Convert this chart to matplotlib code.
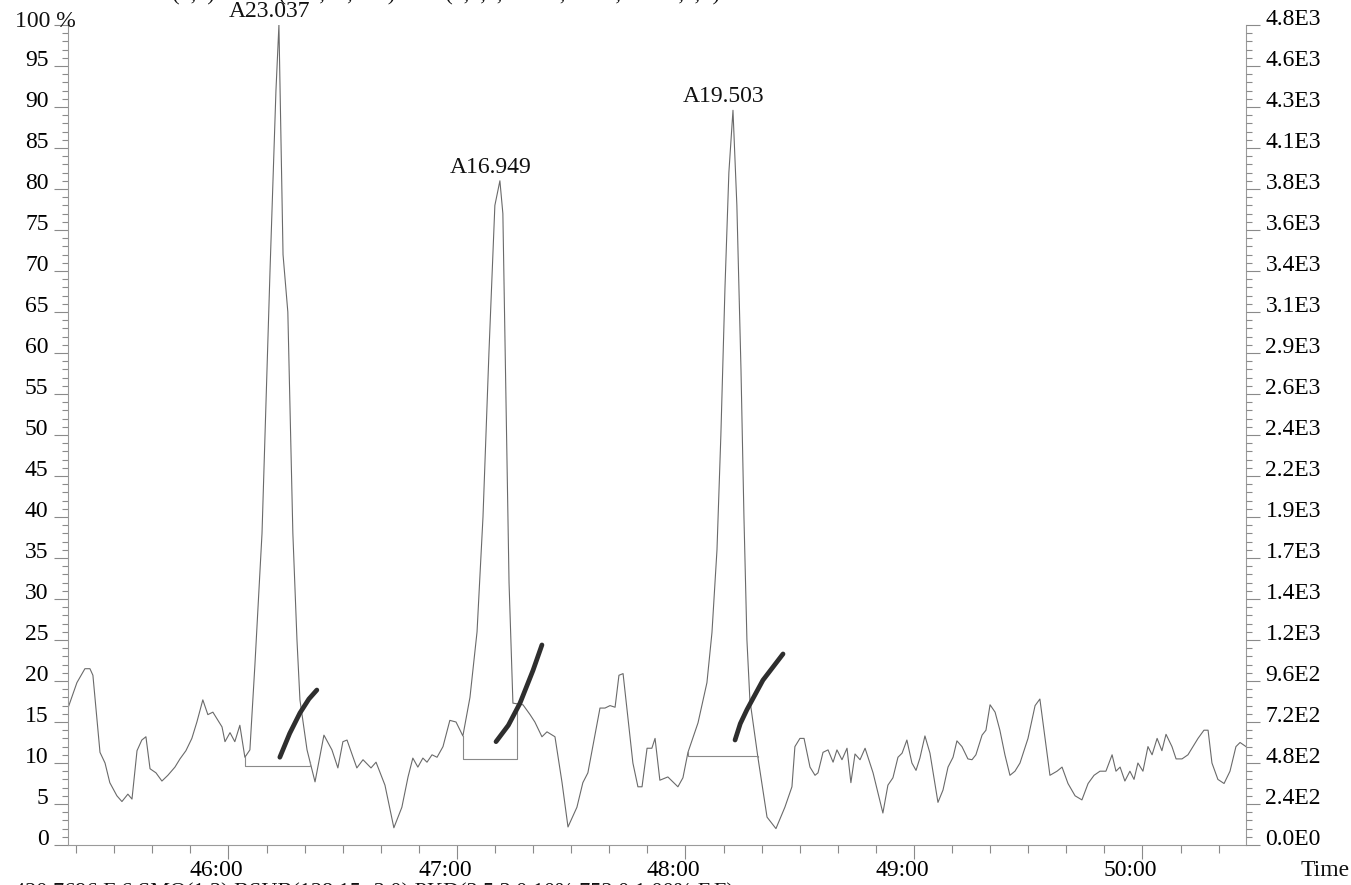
import numpy as np
import matplotlib
matplotlib.use("Agg")
import matplotlib.pyplot as plt
from matplotlib.ticker import MultipleLocator, FuncFormatter
from matplotlib.transforms import ScaledTranslation

plt.rcParams['font.family'] = ['Liberation Serif', 'DejaVu Serif']

# ---------- data ----------
header = "424.7931 F4 SMO(1,3) BSUB(128,15,-3.0) PKD(3,5,3,0.10%,752.0,1.00%,F,F)"
footer = "420.7696 F 6 SMO(1,3) BSUB(128,15,-3.0) PKD(3,5,3,0.10%,752.0,1.00%,F,F)"
full_scale = 4.8e3  # counts at 100 %

time_min = [
    45.298, 45.337, 45.372, 45.394, 45.407, 45.438, 45.460, 45.481, 45.512, 45.534,
    45.560, 45.578, 45.600, 45.621, 45.639, 45.657, 45.683, 45.709, 45.735, 45.766,
    45.788, 45.814, 45.840, 45.862, 45.888, 45.910, 45.932, 45.972, 45.985, 46.007,
    46.028, 46.050, 46.072, 46.094, 46.116, 46.147, 46.182, 46.208, 46.221, 46.239,
    46.260, 46.282, 46.300, 46.313, 46.344, 46.379, 46.418, 46.453, 46.479, 46.501,
    46.519, 46.562, 46.589, 46.624, 46.646, 46.685, 46.724, 46.759, 46.786, 46.807,
    46.829, 46.851, 46.869, 46.891, 46.913, 46.939, 46.969, 46.996, 47.026, 47.057,
    47.088, 47.114, 47.140, 47.166, 47.188, 47.201, 47.214, 47.228, 47.245, 47.289,
    47.320, 47.341, 47.372, 47.394, 47.429, 47.460, 47.486, 47.525, 47.551, 47.573,
    47.626, 47.648, 47.670, 47.692, 47.709, 47.727, 47.770, 47.792, 47.810, 47.832,
    47.853, 47.867, 47.888, 47.923, 47.967, 47.989, 48.011, 48.055, 48.094, 48.116,
    48.138, 48.155, 48.173, 48.190, 48.208, 48.225, 48.243, 48.256, 48.269, 48.282,
    48.317, 48.357, 48.396, 48.435, 48.466, 48.479, 48.501, 48.519, 48.545, 48.567,
    48.580, 48.602, 48.624, 48.646, 48.663, 48.685, 48.707, 48.724, 48.742, 48.764,
    48.786, 48.821, 48.864, 48.886, 48.908, 48.930, 48.948, 48.969, 48.991, 49.009,
    49.026, 49.048, 49.070, 49.105, 49.127, 49.149, 49.171, 49.188, 49.210, 49.236,
    49.254, 49.271, 49.298, 49.315, 49.333, 49.355, 49.376, 49.398, 49.420, 49.442,
    49.464, 49.499, 49.530, 49.551, 49.569, 49.595, 49.626, 49.648, 49.674, 49.705,
    49.735, 49.762, 49.788, 49.814, 49.840, 49.867, 49.884, 49.902, 49.923, 49.945,
    49.963, 49.980, 50.002, 50.024, 50.042, 50.064, 50.085, 50.103, 50.129, 50.147,
    50.173, 50.199, 50.221, 50.243, 50.269, 50.287, 50.304, 50.330, 50.357, 50.383,
    50.409, 50.427, 50.453,
]
intensity = [
    16.7, 19.8, 21.5, 21.5, 20.7, 11.3, 10.0, 7.6, 6.0, 5.3,
    6.2, 5.6, 11.5, 12.8, 13.2, 9.3, 8.8, 7.8, 8.5, 9.5,
    10.5, 11.5, 13.0, 15.0, 17.7, 15.9, 16.2, 14.4, 12.6, 13.7,
    12.6, 14.6, 10.7, 11.6, 22.0, 38.0, 70.0, 92.0, 100.0, 72.0,
    65.0, 38.0, 25.0, 17.7, 11.6, 7.7, 13.4, 11.6, 9.4, 12.6,
    12.8, 9.4, 10.4, 9.4, 10.1, 7.3, 2.1, 4.6, 8.3, 10.6,
    9.5, 10.6, 10.1, 11.0, 10.7, 12.0, 15.2, 15.0, 13.3, 18.0,
    26.0, 40.0, 60.0, 78.0, 81.0, 77.0, 55.0, 32.0, 17.3, 17.1,
    15.9, 15.0, 13.2, 13.8, 13.2, 7.6, 2.2, 4.6, 7.6, 8.8,
    16.7, 16.7, 17.0, 16.8, 20.7, 20.9, 10.0, 7.1, 7.1, 11.8,
    11.8, 13.0, 7.9, 8.3, 7.1, 8.2, 11.3, 14.9, 19.8, 25.9,
    36.0, 50.0, 68.0, 82.0, 89.6, 78.0, 58.0, 40.0, 25.0, 17.7,
    10.7, 3.4, 2.0, 4.6, 7.1, 12.0, 13.0, 13.0, 9.5, 8.5,
    8.8, 11.3, 11.6, 10.1, 11.6, 10.4, 11.8, 7.6, 11.1, 10.4,
    11.8, 8.8, 3.9, 7.3, 8.2, 10.7, 11.2, 12.8, 10.0, 9.1,
    10.6, 13.3, 11.2, 5.2, 6.7, 9.5, 10.7, 12.7, 12.0, 10.5,
    10.4, 11.0, 13.4, 14.0, 17.1, 16.2, 14.0, 11.0, 8.5, 9.0,
    10.0, 13.0, 17.0, 17.8, 14.0, 8.5, 9.0, 9.5, 7.5, 6.0,
    5.5, 7.5, 8.5, 9.0, 9.0, 11.0, 9.0, 9.5, 7.8, 9.0,
    8.0, 10.0, 9.0, 12.0, 11.0, 13.0, 11.5, 13.5, 12.0, 10.5,
    10.5, 11.0, 12.0, 13.0, 14.0, 14.0, 10.0, 8.0, 7.5, 9.0,
    12.0, 12.5, 12.0,
]

peak_time = [46.221, 47.188, 48.208]
peak_height = [100.0, 81.0, 89.6]
peak_label = ["A23.037", "A16.949", "A19.503"]

# integration baselines
base_start = [46.072, 47.026, 48.011]
base_end = [46.357, 47.263, 48.317]
base_level = [9.6, 10.5, 10.9]

# hand-drawn strokes next to each peak
stroke_time = [[46.225, 46.268, 46.313, 46.352, 46.387],
               [47.171, 47.225, 47.276, 47.333, 47.372],
               [48.217, 48.240, 48.269, 48.339, 48.427]]
stroke_value = [[10.7, 13.6, 16.1, 17.8, 18.9],
                [12.6, 14.6, 17.3, 21.3, 24.4],
                [12.8, 14.8, 16.5, 20.1, 23.3]]

x_min, x_max = 45.298, 50.453

# ---------- figure ----------
W, H = 1351, 885
fig = plt.figure(figsize=(W / 100, H / 100), dpi=100)
ax = fig.add_axes([68 / W, 40 / H, (1246 - 68) / W, (845 - 25) / H])

line_col = '#6a6a6a'
ax.plot(time_min, intensity, color=line_col, lw=0.8)

for s, e, b in zip(base_start, base_end, base_level):
    ys = np.interp(s, time_min, intensity)
    ye = np.interp(e, time_min, intensity)
    ax.plot([s, s, e, e], [ys, b, b, ye], color='#8a8a8a', lw=0.8)

for st, sv in zip(stroke_time, stroke_value):
    ax.plot(st, sv, color='#2e2e2e', lw=3.4, solid_capstyle='round', solid_joinstyle='round')

for t, h, lab in zip(peak_time, peak_height, peak_label):
    ax.annotate(lab, (t, h), xytext=(-9, 3), textcoords='offset pixels',
                ha='center', va='bottom', fontsize=17, color='#111111')

ax.set_xlim(x_min, x_max)
ax.set_ylim(0, 100)

ax.spines['top'].set_visible(False)
for sp in ['left', 'right', 'bottom']:
    ax.spines[sp].set_color('#9a9a9a')
    ax.spines[sp].set_linewidth(0.8)
    ax.spines[sp].set_linestyle((0, (2, 1)))

# x axis
ax.xaxis.set_major_locator(MultipleLocator(1))
ax.xaxis.set_minor_locator(MultipleLocator(1 / 6))
ax.xaxis.set_major_formatter(FuncFormatter(lambda v, p: f"{int(round(v))}:00"))
ax.tick_params(axis='x', which='major', length=10, width=0.8, color='#8a8a8a',
               labelsize=17, pad=1)
ax.tick_params(axis='x', which='minor', length=6, width=0.8, color='#8a8a8a')
shift = ScaledTranslation(-12 / 100, 0, fig.dpi_scale_trans)
for lab in ax.get_xticklabels():
    lab.set_transform(lab.get_transform() + shift)

# left y axis (the 100 % label is written separately, it hangs over the axis)
ax.yaxis.set_major_locator(MultipleLocator(5))
ax.yaxis.set_minor_locator(MultipleLocator(1))
ax.yaxis.set_major_formatter(FuncFormatter(lambda v, p: "" if v >= 100 else f"{int(v)}"))
ax.tick_params(axis='y', which='major', length=10, width=0.8, color='#8a8a8a',
               labelsize=17, pad=4)
ax.tick_params(axis='y', which='minor', length=4, width=0.8, color='#8a8a8a')
for lab in ax.get_yticklabels():
    lab.set_va('baseline')
fig.text(15 / W, 1 - 27 / H, "100 %", ha='left', va='baseline', fontsize=17, color='#111111')


# right y axis in counts
def counts_label(v, p):
    c = v * full_scale / 100
    if c <= 0:
        return "0.0E0"
    e = int(np.floor(np.log10(c)))
    m = c / 10 ** e
    if round(m, 1) >= 10:
        m, e = m / 10, e + 1
    return f"{m:.1f}E{e}"


ax2 = ax.twinx()
ax2.set_ylim(0, 100)
for sp in ['top', 'left', 'bottom', 'right']:
    ax2.spines[sp].set_visible(False)
ax2.yaxis.set_major_locator(MultipleLocator(5))
ax2.yaxis.set_minor_locator(MultipleLocator(1))
ax2.yaxis.set_major_formatter(FuncFormatter(counts_label))
ax2.tick_params(axis='y', which='major', length=10, width=0.8, color='#8a8a8a',
                labelsize=17, pad=4)
ax2.tick_params(axis='y', which='minor', length=4, width=0.8, color='#8a8a8a')
for lab in ax2.get_yticklabels():
    lab.set_va('baseline')

fig.text(1325 / W, 1 - 870 / H, "Time", ha='center', va='center', fontsize=17, color='#111111')
fig.text(6 / W, 1 + 4 / H, header, ha='left', va='center', fontsize=16, color='#111111')
fig.text(14 / W, -8 / H, footer, ha='left', va='center', fontsize=16, color='#111111')

fig.savefig("out.png", dpi=100)
